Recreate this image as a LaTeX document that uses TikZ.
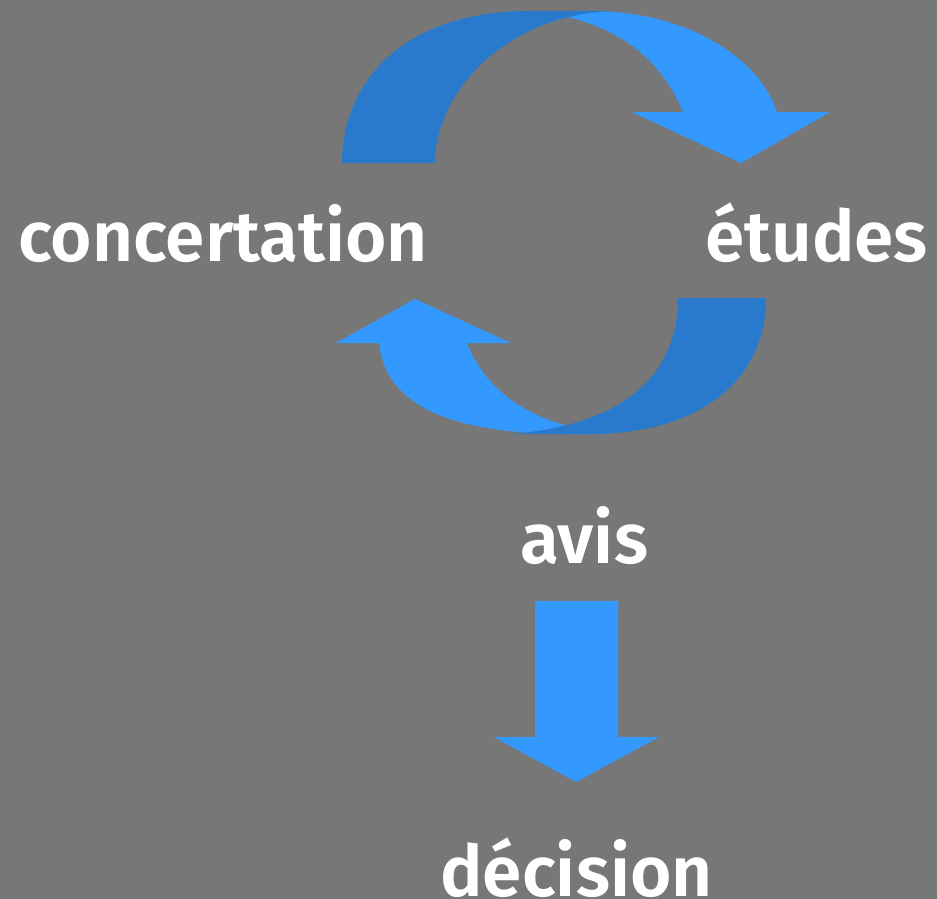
\documentclass[tikz,border=0pt]{standalone}
\usepackage{fontspec}
\setmainfont{Fira Sans}[BoldFont={Fira Sans SemiBold}]
\definecolor{bg}{HTML}{777777}
\definecolor{lightblue}{HTML}{3399FF}
\definecolor{darkblue}{HTML}{297ACC}
\begin{document}
\begin{tikzpicture}[x=1pt,y=-1pt,
  lbl/.style={text=white,inner sep=0pt,anchor=base,font=\fontsize{71}{80}\selectfont\bfseries},
  lightpart/.style={fill=lightblue,draw=none},
  darkpart/.style={fill=darkblue,draw=none}]
\fill[bg] (0,0) rectangle (937,899);
\useasboundingbox (0,0) rectangle (937,899);
% top arc: light arrow part
\path[lightpart] (590,11) .. controls (690,11) and (760,60) .. (777,112)
  -- (830,112) -- (741,163) -- (632,112) -- (683,112)
  .. controls (655,45) and (600,20) .. (540,12) -- cycle;
% top arc: dark tail part
\path[darkpart] (342,163) .. controls (342,85) and (400,11) .. (530,11)
  -- (620,11) .. controls (510,11) and (435,90) .. (435,163) -- cycle;
% bottom arc: light arrow part
\path[lightpart] (336,343) -- (415,299) -- (511,343) -- (467,343)
  .. controls (485,390) and (530,425) .. (610,434)
  -- (570,434) .. controls (440,434) and (385,400) .. (379,343) -- cycle;
% bottom arc: dark tail part
\path[darkpart] (766,298) .. controls (766,380) and (700,434) .. (590,434)
  -- (510,434) .. controls (630,425) and (678,370) .. (678,298) -- cycle;
% down arrow
\path[lightpart] (535,601) -- (618,601) -- (618,737) -- (659,737) -- (576,782)
  -- (494,737) -- (535,737) -- cycle;
% labels
\node[lbl] (conc) at (223,261) {concertation};
\node[lbl] (etud) at (816.5,261) {études};
\node[lbl] (avis) at (584,563) {avis};
\node[lbl] (deci) at (576.5,896) {décision};
\end{tikzpicture}
\end{document}
